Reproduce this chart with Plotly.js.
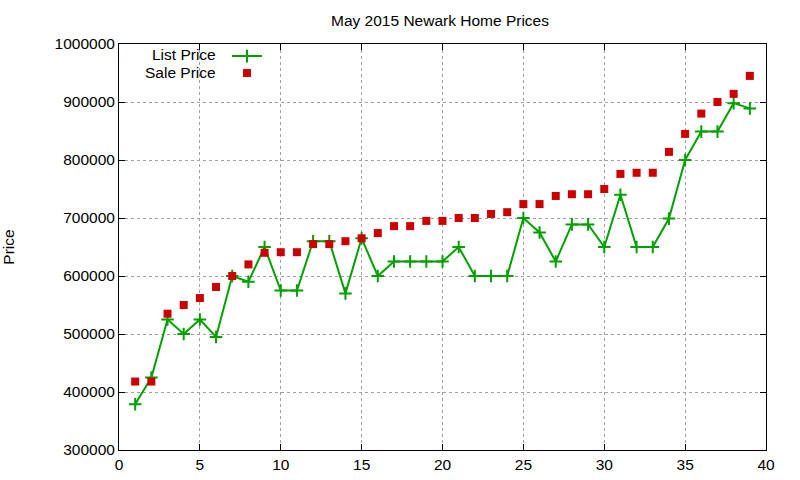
<!DOCTYPE html>
<html>
<head>
<meta charset="utf-8">
<script src="https://cdn.plot.ly/plotly-3.0.1.min.js"></script>
<style>html,body{margin:0;padding:0;background:#fff}#chart{width:800px;height:480px}</style>
</head>
<body>
<div id="chart"></div>
<script>
const homeIndex = [1,2,3,4,5,6,7,8,9,10,11,12,13,14,15,16,17,18,19,20,21,22,23,24,25,26,27,28,29,30,31,32,33,34,35,36,37,38,39];
const listPrice = [379000,425000,525000,500000,525000,495000,600000,590000,650000,575000,575000,660000,660000,570000,665000,600000,625000,625000,625000,625000,650000,600000,600000,600000,700000,675000,625000,689000,689000,650000,740000,650000,650000,699000,800000,849000,849000,898000,889000];
const salePrice = [418000,418000,535000,550000,562000,581000,600000,620000,640000,641000,641000,655000,655000,660000,665000,674000,686000,686000,695000,695000,700000,700000,707000,710000,724000,724000,738000,741000,741000,750000,776000,778000,778000,814000,845000,880000,900000,914000,945000];
const xTicks = [0,5,10,15,20,25,30,35,40];
const yTicks = [300000,400000,500000,600000,700000,800000,900000,1000000];
const seriesNames = ["List Price","Sale Price"];
const chartTitle = "May 2015 Newark Home Prices";
const yTitle = "Price";

const font = "Liberation Sans, Arial, sans-serif";
const fs = 15.5;
const traces = [
  {x: homeIndex, y: listPrice, type: "scatter", mode: "lines+markers", name: " ", legend: "legend",
   line: {color: "#00a000", width: 2},
   marker: {symbol: "cross-thin", size: 9, line: {color: "#00a000", width: 2}, color: "#00a000"}},
  {x: homeIndex, y: salePrice, type: "scatter", mode: "markers", name: " ", legend: "legend2",
   marker: {symbol: "square", size: 8, color: "#cc0000"}}
];
const axisCommon = {
  showline: true, linecolor: "#000", linewidth: 1, mirror: "ticks",
  ticks: "inside", ticklen: 6, tickcolor: "#000",
  showgrid: true, gridcolor: "#a0a0a0", griddash: "dot", gridwidth: 1,
  zeroline: false, tickfont: {family: font, size: fs, color: "#000"}
};
const legendCommon = {xanchor: "left", yanchor: "top", bgcolor: "rgba(0,0,0,0)",
  borderwidth: 0, font: {family: font, size: fs}, itemwidth: 30};
const layout = {
  width: 800, height: 480,
  margin: {l: 119, r: 34, t: 44, b: 30},
  paper_bgcolor: "#fff", plot_bgcolor: "#fff",
  font: {family: font, size: fs, color: "#000"},
  title: {text: chartTitle, x: 0.55, xanchor: "center", y: 0.957, yanchor: "middle", font: {family: font, size: fs, color: "#000"}},
  xaxis: Object.assign({}, axisCommon, {range: [0, 40], tickvals: xTicks, ticktext: xTicks.map(String)}),
  yaxis: Object.assign({}, axisCommon, {range: [300000, 1000000], tickvals: yTicks, ticktext: yTicks.map(String),
    title: {text: yTitle, standoff: 40, font: {family: font, size: fs, color: "#000"}}}),
  showlegend: true,
  legend: Object.assign({}, legendCommon, {x: (227 - 119) / 647, y: (450 - 39.5) / 406}),
  legend2: Object.assign({}, legendCommon, {x: (227 - 119) / 647, y: (450 - 56.5) / 406}),
  annotations: [
    {xref: "paper", yref: "paper", x: (218 - 119) / 647, y: (480 - 30 - 54.3) / 406, xanchor: "right", yanchor: "middle", text: seriesNames[0], showarrow: false, font: {family: font, size: fs, color: "#000"}},
    {xref: "paper", yref: "paper", x: (218 - 119) / 647, y: (480 - 30 - 72.2) / 406, xanchor: "right", yanchor: "middle", text: seriesNames[1], showarrow: false, font: {family: font, size: fs, color: "#000"}}
  ]
};
Plotly.newPlot("chart", traces, layout, {displayModeBar: false, staticPlot: true});
</script>
</body>
</html>
